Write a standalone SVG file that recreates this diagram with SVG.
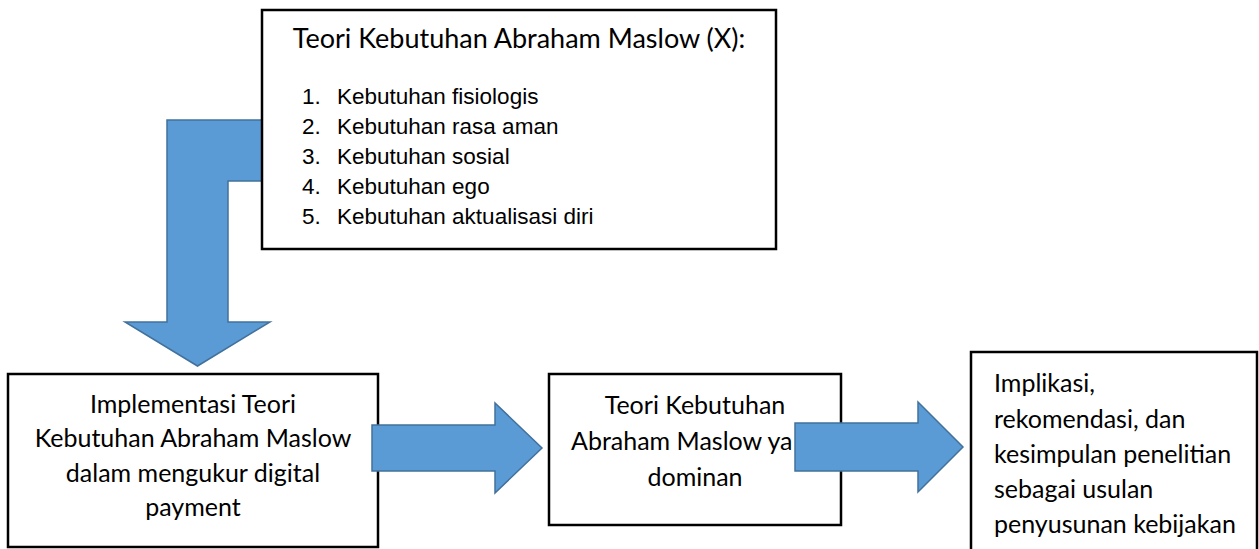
<svg xmlns="http://www.w3.org/2000/svg" width="1259" height="549" viewBox="0 0 1259 549">
<style>
.box{fill:#fff;stroke:#000;stroke-width:2.5}
.arrow{fill:#5B9BD5;stroke:#41719C;stroke-width:1.5;stroke-linejoin:miter}
.cal{font-family:Lato,"Open Sans","DejaVu Sans",sans-serif;font-size:25px;fill:#000}
.title{font-size:27px}
.ari{font-family:"Liberation Sans",Arial,sans-serif;font-size:22.5px;fill:#000}
</style>
<rect width="1259" height="549" fill="#fff"/>
<g id="connectors">
<path id="arrow-down" class="arrow" d="M300,120 L167,120 L167,322 L125,322 L197.5,366 L270,322 L228,322 L228,181 L300,181 Z"/>
</g>
<g id="node-top">
<rect class="box" x="262" y="10" width="514" height="239"/>
<text class="cal title" x="519" y="48" text-anchor="middle">Teori Kebutuhan Abraham Maslow (X):</text>
<text class="ari"><tspan x="302" y="104">1.</tspan><tspan x="337">Kebutuhan fisiologis</tspan></text>
<text class="ari"><tspan x="302" y="134">2.</tspan><tspan x="337">Kebutuhan rasa aman</tspan></text>
<text class="ari"><tspan x="302" y="164">3.</tspan><tspan x="337">Kebutuhan sosial</tspan></text>
<text class="ari"><tspan x="302" y="194">4.</tspan><tspan x="337">Kebutuhan ego</tspan></text>
<text class="ari"><tspan x="302" y="224">5.</tspan><tspan x="337">Kebutuhan aktualisasi diri</tspan></text>
</g>
<g id="node-implementasi">
<rect class="box" x="8" y="374" width="370" height="173"/>
<text class="cal" text-anchor="middle"><tspan x="193" y="413">Implementasi Teori</tspan><tspan x="193" y="447">Kebutuhan Abraham Maslow</tspan><tspan x="193" y="482">dalam mengukur digital</tspan><tspan x="193" y="516">payment</tspan></text>
</g>
<g id="node-dominan">
<rect class="box" x="549" y="374" width="292" height="151"/>
<text class="cal"><tspan x="695" y="414" text-anchor="middle">Teori Kebutuhan</tspan><tspan x="571" y="450">Abraham Maslow ya</tspan><tspan x="695" y="486" text-anchor="middle">dominan</tspan></text>
</g>
<g id="node-implikasi">
<rect class="box" x="971" y="352" width="286" height="210"/>
<text class="cal"><tspan x="994" y="392">Implikasi,</tspan><tspan x="994" y="428">rekomendasi, dan</tspan><tspan x="994" y="463">kesimpulan penelitian</tspan><tspan x="994" y="498">sebagai usulan</tspan><tspan x="994" y="533">penyusunan kebijakan</tspan></text>
</g>
<g id="connectors-h">
<path id="arrow-1" class="arrow" d="M372,425 L495,425 L495,403 L542,448 L495,493 L495,471 L372,471 Z"/>
<path id="arrow-2" class="arrow" d="M795,423 L918,423 L918,402 L963,447 L918,492 L918,471 L795,471 Z"/>
</g>
</svg>
